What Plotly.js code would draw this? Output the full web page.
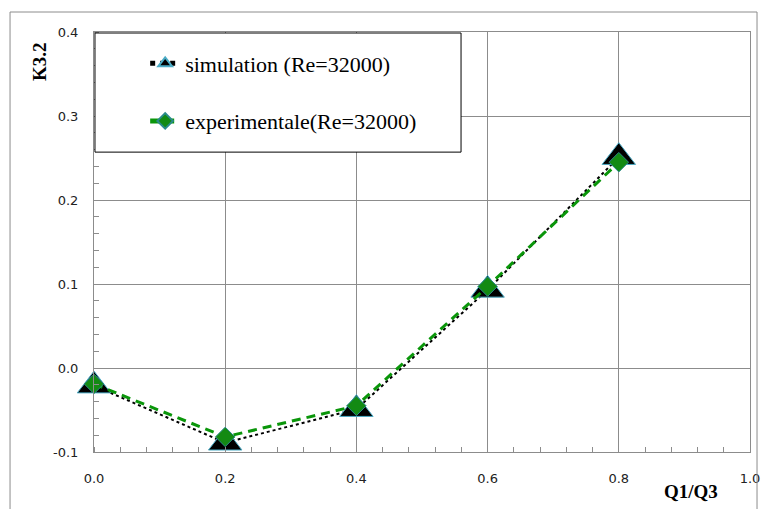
<!DOCTYPE html>
<html>
<head>
<meta charset="utf-8">
<script src="https://cdn.plot.ly/plotly-3.0.1.min.js"></script>
<style>html,body{margin:0;padding:0;background:#fff;}#chart{width:768px;height:509px;}</style>
</head>
<body>
<div id="chart"></div>
<script>
const ratio = [0.0, 0.2, 0.4, 0.6, 0.8];
const simulation = [-0.021, -0.089, -0.049, 0.093, 0.251];
const experimental = [-0.019, -0.082, -0.045, 0.097, 0.245];
const seriesNames = ["simulation (Re=32000)", "experimentale(Re=32000)"];
const xTicks = [0.0, 0.2, 0.4, 0.6, 0.8, 1.0];
const xTickText = ["0.0", "0.2", "0.4", "0.6", "0.8", "1.0"];
const yTicks = [-0.1, 0.0, 0.1, 0.2, 0.3, 0.4];
const yTickText = ["-0.1", "0.0", "0.1", "0.2", "0.3", "0.4"];

const gridColor = "#8c8c8c";
const serif = "Liberation Serif";
const sans = "DejaVu Sans";
const traces = [
  {
    x: ratio, y: simulation, name: seriesNames[0], type: "scatter", mode: "lines+markers",
    legendgroup: "a", cliponaxis: false,
    line: {color: "#000000", width: 2, dash: "dot"},
    marker: {symbol: "triangle-up", size: 29, color: "#000000", line: {color: "#4bacc6", width: 1}}
  },
  {
    x: ratio, y: experimental, name: seriesNames[1], type: "scatter", mode: "lines+markers",
    legendgroup: "b", cliponaxis: false,
    line: {color: "#0a960a", width: 3, dash: "9px,6px"},
    marker: {symbol: "diamond", size: 15, color: "#138a13", line: {color: "#2a8a8a", width: 1}}
  }
];

const layout = {
  width: 768, height: 509,
  margin: {l: 94, r: 18, t: 32, b: 57},
  paper_bgcolor: "#ffffff", plot_bgcolor: "#ffffff",
  showlegend: true,
  legend: {
    x: 0.078, y: 0.975, xanchor: "left", yanchor: "top",
    bgcolor: "rgba(0,0,0,0)", borderwidth: 0,
    traceorder: "grouped", tracegroupgap: 26, itemsizing: "constant",
    font: {family: serif, size: 22, color: "#000"}
  },
  xaxis: {
    range: [0, 1], tickvals: xTicks, ticktext: xTickText,
    showgrid: true, gridcolor: gridColor, gridwidth: 1,
    showline: true, linecolor: gridColor, linewidth: 1, mirror: true,
    zeroline: false, ticks: "", ticklabelstandoff: 14,
    tickfont: {family: sans, size: 13, color: "#222"},
    minor: {dtick: 0.04, ticks: "inside", ticklen: 5, tickcolor: gridColor, showgrid: false}
  },
  yaxis: {
    range: [-0.1, 0.4], tickvals: yTicks, ticktext: yTickText,
    showgrid: true, gridcolor: gridColor, gridwidth: 1,
    showline: true, linecolor: gridColor, linewidth: 1, mirror: true,
    zeroline: false, ticks: "", ticklabelstandoff: 12,
    tickfont: {family: sans, size: 13, color: "#222"},
    minor: {dtick: 0.02, ticks: "inside", ticklen: 5, tickcolor: gridColor, showgrid: false}
  },
  shapes: [
    {type: "rect", xref: "paper", yref: "paper", x0: 0.0015, x1: 0.5595, y0: 0.714, y1: 0.9976,
     line: {color: "#000", width: 1}, fillcolor: "#ffffff", layer: "above"},
    {type: "path", xref: "paper", yref: "paper",
     path: "M -0.128,-0.2 L -0.128,1.0476 L 1.0107,1.0476 L 1.0107,-0.2",
     line: {color: "#8c8c8c", width: 1}}
  ],
  annotations: [
    {text: "<b>K3.2</b>", xref: "paper", yref: "paper", x: -0.083, y: 0.93, textangle: -90,
     showarrow: false, xanchor: "center", yanchor: "middle",
     font: {family: serif, size: 19, color: "#000"}},
    {text: "<b>Q1/Q3</b>", xref: "paper", yref: "paper", x: 0.91, y: -0.095,
     showarrow: false, xanchor: "center", yanchor: "middle",
     font: {family: serif, size: 19, color: "#000"}}
  ]
};

Plotly.newPlot("chart", traces, layout, {staticPlot: true});
</script>
</body>
</html>
